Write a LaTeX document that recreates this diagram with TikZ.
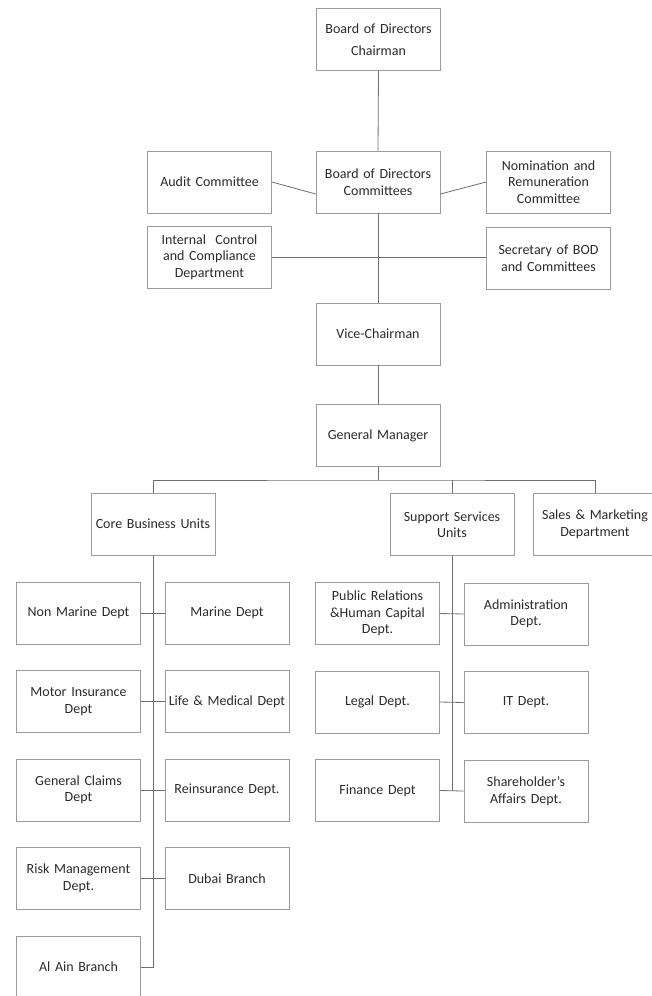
\documentclass[tikz,border=0pt]{standalone}
\usepackage{fontspec}
\setmainfont{Carlito}
\usetikzlibrary{calc}
\definecolor{cline}{HTML}{6E6E6E}
\definecolor{cbox}{HTML}{9A9A9A}
\definecolor{ctext}{HTML}{2B2B2B}
\tikzset{
  every picture/.style={x=1pt, y=-1pt, line width=0.8pt},
  box/.style={draw=cbox, fill=white, text=ctext, align=center, inner sep=1pt,
    text width=122pt, minimum width=124pt, minimum height=62pt,
    font=\fontsize{14}{16.5}\selectfont},
  link/.style={draw=cline, line width=0.8pt},
}
\begin{document}
\begin{tikzpicture}
  \useasboundingbox[fill=white] (0,0) rectangle (652,996);
  \clip (0,0) rectangle (652,996);
  % ---- board level ----
  \node[box] (chair) at (378.5,39.5) {Board of Directors\\[5pt]Chairman};
  \node[box] (bodc) at (378,182) {Board of Directors\\Committees};
  \node[box] (audit) at (209.5,182) {Audit Committee};
  \node[box] (nomin) at (548.5,182) {Nomination and\\Remuneration\\Committee};
  \node[box] (icc) at (209.5,257) {Internal\ \ Control\\and Compliance\\Department};
  \node[box] (secr) at (548.5,258) {Secretary of BOD\\and Committees};
  \node[box] (vice) at (378,334) {Vice-Chairman};
  \node[box] (gm) at (378,435.5) {General Manager};
  \draw[link] (chair.south) -- (bodc.north);
  \draw[link] (audit.east) -- ([yshift=-12pt]bodc.west);
  \draw[link] (nomin.west) -- ([yshift=-12pt]bodc.east);
  \draw[link] (bodc.south) -- (vice.north);
  \draw[link] (icc.east) -- (icc.east -| secr.west);
  \draw[link] (vice.south) -- (gm.north);
  % ---- units under the general manager ----
  \node[box] (core) at (153,524) {Core Business Units};
  \node[box] (supp) at (452,524.5) {Support Services\\Units};
  \node[box] (sales) at (595,524.5) {Sales \& Marketing\\Department};
  \coordinate (bus) at (378,480);
  \draw[link] (gm.south) -- (bus);
  \draw[link] (core.north) |- (bus) -| (sales.north);
  \draw[link] (supp.north) -- (supp.north |- bus);
  % ---- core business departments ----
  \foreach \t/\n [count=\i from 0] in {Non Marine Dept/nonmar, {Motor Insurance\\Dept}/motor,
      {General Claims\\Dept}/claims, {Risk Management\\Dept.}/risk, Al Ain Branch/alain}
    \node[box] (\n) at (78.5,613+\i*88.5) {\t};
  \foreach \t/\n [count=\i from 0] in {Marine Dept/marine, Life \& Medical Dept/life,
      Reinsurance Dept./reins, Dubai Branch/dubai}
    \node[box] (\n) at (227,613+\i*88.5) {\t};
  \draw[link] (core.south) |- (alain.east);
  \foreach \a/\b in {nonmar/marine, motor/life, claims/reins, risk/dubai}
    \draw[link] (\a.east) -- (\b.west);
  % ---- support services departments ----
  \foreach \t/\n [count=\i from 0] in {{Public Relations\\\&Human Capital\\Dept.}/pr,
      Legal Dept./legal, Finance Dept/fin}
    \node[box] (\n) at (377.5,613.5+\i*88.5) {\t};
  \foreach \t/\n [count=\i from 0] in {{Administration\\Dept.}/admin, IT Dept./it,
      {Shareholder's\\Affairs Dept.}/share}
    \node[box] (\n) at (526,614+\i*88.5) {\t};
  \draw[link] (supp.south) -- (supp.south |- fin.east);
  \foreach \a/\b in {pr/admin, legal/it, fin/share}
    \draw[link] (\a.east) -- (\b.west);
\end{tikzpicture}
\end{document}
